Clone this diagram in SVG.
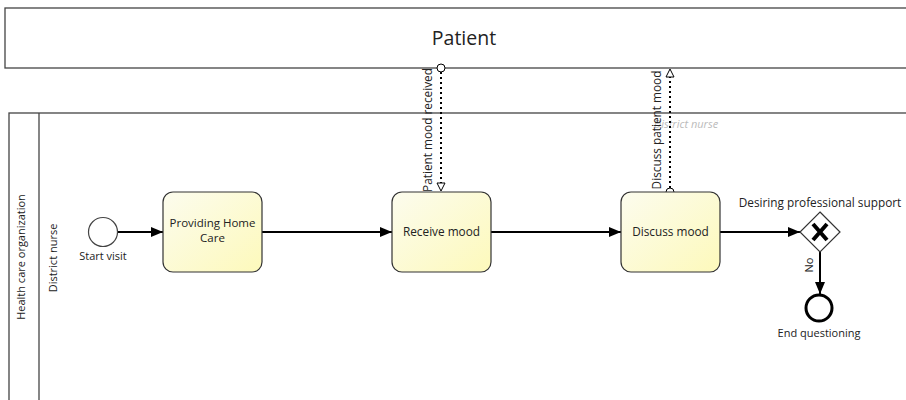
<svg xmlns="http://www.w3.org/2000/svg" width="906" height="400" viewBox="0 0 906 400">
<style>
text{font-family:"Open Sans","Liberation Sans",sans-serif;fill:#222;}
.pool{fill:#fff;stroke:#444;stroke-width:1.3;}
.task{fill:url(#tg);stroke:#333;stroke-width:1.2;}
.lbl{font-size:11.8px;text-anchor:middle;}
.sm{font-size:11px;text-anchor:middle;}
.seq{fill:none;stroke:#000;stroke-width:2;marker-end:url(#arr);}
.msg{fill:none;stroke:#000;stroke-width:2;stroke-dasharray:2,3;}
</style>
<defs>
<linearGradient id="tg" x1="0" y1="0" x2="1" y2="1">
<stop offset="0" stop-color="#fcfcee"/>
<stop offset="1" stop-color="#fdf9bb"/>
</linearGradient>
<marker id="arr" markerWidth="12" markerHeight="10" refX="12" refY="5" orient="auto" markerUnits="userSpaceOnUse">
<path d="M0,0 L12,5 L0,10 Z" fill="#000"/>
</marker>
<marker id="open" markerWidth="10" markerHeight="10" refX="9" refY="5" orient="auto" markerUnits="userSpaceOnUse">
<path d="M1,1 L9,5 L1,9 Z" fill="#fff" stroke="#000" stroke-width="1"/>
</marker>
</defs>
<g id="pool-patient">
<rect class="pool" x="5" y="8" width="910" height="60"/>
<text x="464" y="45" font-size="19.5" text-anchor="middle">Patient</text>
</g>
<g id="pool-health">
<rect class="pool" x="9" y="113" width="910" height="300"/>
<line x1="39" y1="113" x2="39" y2="400" stroke="#444" stroke-width="1.3"/>
<text x="25" y="257" font-size="11" text-anchor="middle" transform="rotate(-90 25 257)">Health care organization</text>
<text x="57" y="258" font-size="11" text-anchor="middle" transform="rotate(-90 57 258)">District nurse</text>
<text x="686" y="128" font-size="11" font-style="italic" text-anchor="middle" style="fill:#bbb">District nurse</text>
</g>
<g id="connectors">
<line class="seq" x1="118" y1="232" x2="163" y2="232"/>
<line class="seq" x1="262" y1="232" x2="392" y2="232"/>
<line class="seq" x1="491" y1="232" x2="621" y2="232"/>
<line class="seq" x1="720" y1="232" x2="800" y2="232"/>
<line class="seq" x1="820" y1="252" x2="820" y2="294"/>
<text x="813" y="265" font-size="11" text-anchor="middle" transform="rotate(-90 813 265)">No</text>
<line class="msg" x1="441" y1="72" x2="441" y2="191" marker-end="url(#open)"/>
<circle cx="441" cy="68" r="4" fill="#fff" stroke="#000" stroke-width="1"/>
<text x="432" y="130" font-size="11.8" text-anchor="middle" transform="rotate(-90 432 130)">Patient mood received</text>
<line class="msg" x1="670" y1="188" x2="670" y2="69" marker-end="url(#open)"/>
<circle cx="670" cy="192" r="4" fill="#fff" stroke="#000" stroke-width="1"/>
<text x="661" y="130" font-size="11.8" text-anchor="middle" transform="rotate(-90 661 130)">Discuss patient mood</text>
</g>
<g id="start">
<circle cx="103" cy="232" r="14.5" fill="#fff" stroke="#444" stroke-width="1.2"/>
<text class="sm" x="103" y="260">Start visit</text>
</g>
<g id="task-providing">
<rect class="task" x="163" y="192" width="99" height="80" rx="10"/>
<text class="lbl" style="font-size:11.5px"><tspan x="212.5" y="227">Providing Home</tspan><tspan x="212.5" y="242">Care</tspan></text>
</g>
<g id="task-receive">
<rect class="task" x="392" y="192" width="99" height="80" rx="10"/>
<text class="lbl" x="441.5" y="236">Receive mood</text>
</g>
<g id="task-discuss">
<rect class="task" x="621" y="192" width="99" height="80" rx="10"/>
<text class="lbl" x="670.5" y="236">Discuss mood</text>
</g>
<g id="gateway">
<path d="M820,212 L840,232 L820,252 L800,232 Z" fill="#fff" stroke="#333" stroke-width="1.2"/>
<path d="M813,224 L827,240 M827,224 L813,240" stroke="#000" stroke-width="4"/>
<text class="lbl" x="820" y="207">Desiring professional support</text>
</g>
<g id="end">
<circle cx="819" cy="308" r="13" fill="#fff" stroke="#000" stroke-width="3"/>
<text class="sm" x="819" y="337">End questioning</text>
</g>
</svg>
